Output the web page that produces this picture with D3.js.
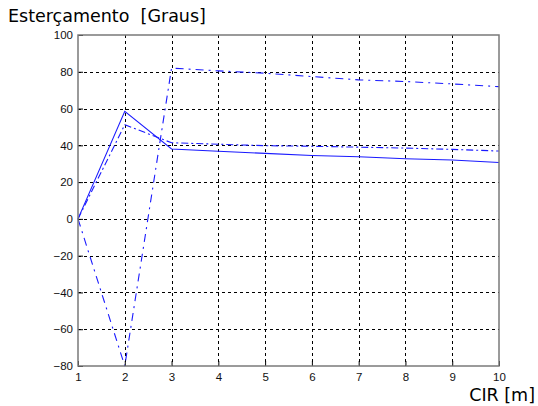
<!DOCTYPE html>
<html>
<head>
<meta charset="utf-8">
<script src="https://cdn.jsdelivr.net/npm/d3@7"></script>
<style>
  body { margin: 0; background: #fff; }
  svg { display: block; }
</style>
</head>
<body>
<div id="chart"></div>
<script>
var width = 538;
var height = 406;

// CIR [m]
var cir = [1, 2, 3, 4, 5, 6, 7, 8, 9, 10];
// Esterçamento [Graus] per curve
var serieSolid   = [0, 58.5, 38, 36.8, 35.6, 34.5, 33.8, 32.7, 32, 30.7];
var serieDash    = [0, 51.2, 41.4, 40.6, 39.8, 39.5, 39, 38.5, 37.8, 36.9];
var serieDashDot = [0, -80, 82, 80.5, 79.2, 77.4, 75.6, 74.7, 73.4, 71.9];

var xTicks = [1, 2, 3, 4, 5, 6, 7, 8, 9, 10];
var yTicks = [-80, -60, -40, -20, 0, 20, 40, 60, 80, 100];

var margin = {left: 78, right: 39, top: 35, bottom: 40};

var x = d3.scaleLinear().domain([1, 10]).range([margin.left, width - margin.right]);
var y = d3.scaleLinear().domain([-80, 100]).range([height - margin.bottom, margin.top]);

var svg = d3.select("#chart").append("svg")
    .attr("width", width)
    .attr("height", height);

// grid
var grid = svg.append("g")
    .attr("stroke", "#000")
    .attr("stroke-width", 1)
    .attr("stroke-dasharray", "3,3")
    .attr("shape-rendering", "crispEdges");

grid.selectAll("line.v")
  .data(xTicks.slice(1, -1))
  .join("line")
    .attr("class", "v")
    .attr("x1", d => Math.round(x(d)) + 0.5)
    .attr("x2", d => Math.round(x(d)) + 0.5)
    .attr("y1", y(100))
    .attr("y2", y(-80));

grid.selectAll("line.h")
  .data(yTicks.slice(1, -1))
  .join("line")
    .attr("class", "h")
    .attr("x1", x(1))
    .attr("x2", x(10))
    .attr("y1", d => Math.round(y(d)) + 0.5)
    .attr("y2", d => Math.round(y(d)) + 0.5);

// curves
var line = d3.line()
    .x((d, i) => x(cir[i]))
    .y(d => y(d));

var curves = [
  {values: serieSolid, dash: null},
  {values: serieDash, dash: "7,3,2,3"},
  {values: serieDashDot, dash: "8,5,2,5"}
];

svg.append("g")
    .attr("fill", "none")
    .attr("stroke", "#1a1aff")
    .attr("stroke-width", 1.1)
  .selectAll("path")
  .data(curves)
  .join("path")
    .attr("d", d => line(d.values))
    .attr("stroke-dasharray", d => d.dash);

// axes frame
var xAxis = d3.axisBottom(x).tickValues(xTicks).tickSize(-5).tickPadding(7);
var yAxis = d3.axisLeft(y).tickValues(yTicks).tickSize(-5).tickPadding(5);

var gx = svg.append("g")
    .attr("transform", `translate(0,${y(-80)})`)
    .call(xAxis);
var gy = svg.append("g")
    .attr("transform", `translate(${x(1)},0)`)
    .call(yAxis);

[gx, gy].forEach(g => {
  g.select(".domain").remove();
  g.selectAll(".tick line").attr("stroke", "#000");
  g.selectAll(".tick text")
    .attr("fill", "#111")
    .style("font", "11.5px 'Liberation Sans', Arial, sans-serif");
});

svg.append("rect")
    .attr("x", x(1))
    .attr("y", y(100))
    .attr("width", x(10) - x(1))
    .attr("height", y(-80) - y(100))
    .attr("fill", "none")
    .attr("stroke", "#7a7a7a")
    .attr("stroke-width", 1.5);

// labels
svg.append("text")
    .attr("x", 8)
    .attr("y", 22)
    .style("font", "17.5px 'DejaVu Sans', Verdana, sans-serif")
    .style("white-space", "pre")
    .attr("fill", "#000")
    .text("Esterçamento  [Graus]");

svg.append("text")
    .attr("x", 535)
    .attr("y", 401)
    .attr("text-anchor", "end")
    .style("font", "17.5px 'DejaVu Sans', Verdana, sans-serif")
    .attr("fill", "#000")
    .text("CIR [m]");
</script>
</body>
</html>
